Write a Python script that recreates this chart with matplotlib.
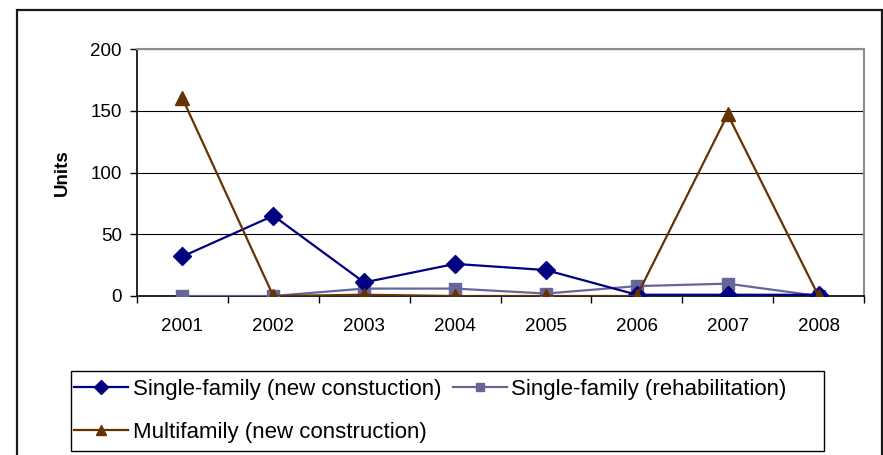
import numpy as np
import matplotlib.pyplot as plt
from matplotlib.patches import Rectangle

plt.rcParams['font.family'] = ['Liberation Sans', 'DejaVu Sans']

YEARS = ["2001", "2002", "2003", "2004", "2005", "2006", "2007", "2008"]
SF_NEW = [32, 65, 11, 26, 21, 1, 1, 1]
SF_REHAB = [0, 0, 6, 6, 2, 8, 10, 0]
MULTI_NEW = [160, 0, 1, 0, 0, 0, 147, 0]

W, H = 883, 455


def px_box(x0, y0, x1, y1):
    """Pixel box (top-left origin) -> figure-fraction (left, bottom, width, height)."""
    return x0 / W, 1 - y1 / H, (x1 - x0) / W, (y1 - y0) / H


def main():
    fig = plt.figure(figsize=(W / 100, H / 100), dpi=100)

    # outer chart border, runs off the bottom edge
    l, b, w, h = px_box(17, 10, 882, 460)
    fig.patches.append(Rectangle((l, b), w, h, transform=fig.transFigure,
                                 fill=False, edgecolor="#1a1a1a", lw=1.6))

    ax = fig.add_axes(px_box(137, 49, 864, 296))
    x = np.arange(len(YEARS))

    h1, = ax.plot(x, SF_NEW, color="#000080", lw=1.6, marker="D", ms=9,
                  label="Single-family (new constuction)", zorder=4)
    h2, = ax.plot(x, SF_REHAB, color="#666699", lw=1.6, marker="s", ms=8,
                  label="Single-family (rehabilitation)", zorder=3)
    h3, = ax.plot(x, MULTI_NEW, color="#663300", lw=1.6, marker="^", ms=9.5,
                  label="Multifamily (new construction)", zorder=5)

    ax.set_xlim(-0.5, len(YEARS) - 0.5)
    ax.set_ylim(0, 200)
    ax.set_yticks([0, 50, 100, 150, 200])
    ax.yaxis.grid(True, color="black", lw=0.8)
    ax.set_axisbelow(True)

    # tick marks on category boundaries, labels at category centres
    ax.set_xticks(np.arange(-0.5, len(YEARS)), labels=[])
    ax.set_xticks(x, labels=YEARS, minor=True)
    ax.tick_params(axis="x", which="major", length=5, width=1, direction="out")
    ax.tick_params(axis="x", which="minor", length=0, pad=16, labelsize=13.5)
    ax.tick_params(axis="y", length=5, width=1, pad=6, labelsize=13.5)

    for side in ("top", "right"):
        ax.spines[side].set_color("#8c8c8c")
        ax.spines[side].set_linewidth(1.5)
    ax.spines["left"].set_linewidth(1.2)
    ax.spines["bottom"].set_linewidth(1.2)

    ax.set_ylabel("Units", fontsize=13.5, fontweight="bold", labelpad=14)

    # legend box drawn separately so it can be wider than its entries
    l, b, w, h = px_box(71, 371, 824, 451)
    fig.patches.append(Rectangle((l, b), w, h, transform=fig.transFigure,
                                 facecolor="white", edgecolor="black", lw=1.0))
    fig.legend([h1, h3, h2], [h1.get_label(), h3.get_label(), h2.get_label()],
               ncol=2, loc="upper left", bbox_to_anchor=(74 / W, 1 - 379 / H),
               fontsize=16, frameon=False, handlelength=2.45, markerscale=0.75,
               handletextpad=0.2, borderaxespad=0, borderpad=0,
               labelspacing=1.0, columnspacing=0.5)

    fig.savefig("out.png", dpi=100)


if __name__ == "__main__":
    main()
